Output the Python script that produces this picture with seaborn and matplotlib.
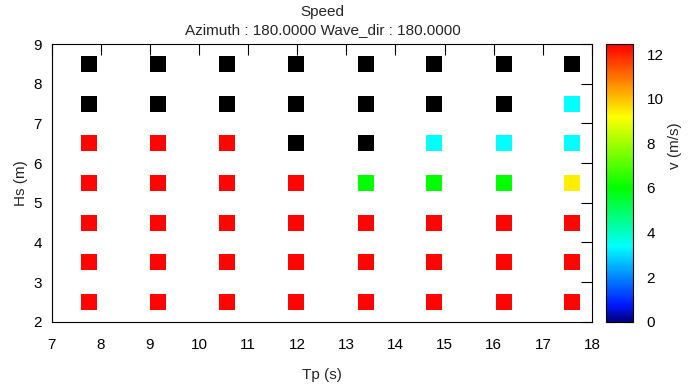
import numpy as np
import pandas as pd
import seaborn as sns
import matplotlib
matplotlib.use("Agg")
import matplotlib.pyplot as plt
from matplotlib.colors import LinearSegmentedColormap, Normalize
from matplotlib.cm import ScalarMappable

# Wave period (s) and significant wave height (m) of each grid point
tp = [7.76, 9.17, 10.57, 11.98, 13.39, 14.79, 16.2, 17.6]
hs = [2.5, 3.5, 4.5, 5.5, 6.5, 7.5, 8.5]

# Speed v (m/s) per Hs row (bottom to top), NaN = no result (drawn black)
nan = np.nan
speed = [
    [12.4, 12.4, 12.4, 12.4, 12.4, 12.4, 12.4, 12.4],
    [12.4, 12.4, 12.4, 12.4, 12.4, 12.4, 12.4, 12.4],
    [12.4, 12.4, 12.4, 12.4, 12.4, 12.4, 12.4, 12.4],
    [12.4, 12.4, 12.4, 12.4, 6.0, 6.0, 6.0, 9.4],
    [12.4, 12.4, 12.4, nan, nan, 3.4, 3.4, 3.4],
    [nan, nan, nan, nan, nan, nan, nan, 3.4],
    [nan, nan, nan, nan, nan, nan, nan, nan],
]

v_min, v_max = 0, 12.46

rows = []
for i, h in enumerate(hs):
    for j, t in enumerate(tp):
        rows.append({"Tp": t, "Hs": h, "v": speed[i][j]})
df = pd.DataFrame(rows)
valid = df[df["v"].notna()]
missing = df[df["v"].isna()]

cmap = LinearSegmentedColormap.from_list("speed", [
    (0.0, (0.0, 0.0, 0.5)),
    (0.06, (0.0, 0.1, 1.0)),
    (0.27, (0.0, 1.0, 1.0)),
    (0.48, (0.0, 1.0, 0.0)),
    (0.74, (1.0, 1.0, 0.0)),
    (1.0, (1.0, 0.0, 0.0)),
])

sns.set_style("white")
plt.rcParams["font.family"] = ["Liberation Sans", "DejaVu Sans"]
plt.rcParams["font.size"] = 11

fig = plt.figure(figsize=(6.88, 3.9), dpi=100)
ax = fig.add_axes([0.0751, 0.1751, 0.7853, 0.712])
cax = fig.add_axes([0.8804, 0.1751, 0.0392, 0.712])

sns.scatterplot(data=valid, x="Tp", y="Hs", hue="v", palette=cmap,
                hue_norm=(v_min, v_max), marker="s", s=132, linewidth=0,
                legend=False, ax=ax)
sns.scatterplot(data=missing, x="Tp", y="Hs", color="black", marker="s",
                s=132, linewidth=0, legend=False, ax=ax)

ax.set_xlim(7, 18)
ax.set_ylim(2, 9)
ax.set_xticks(range(7, 19))
ax.set_yticks(range(2, 10))
ax.tick_params(direction="in", length=8, width=0.8, top=True, right=True,
               labelsize=11, colors="black")
ax.tick_params(axis="x", pad=12)
ax.tick_params(axis="y", pad=7)
for sp in ax.spines.values():
    sp.set_color("black")
    sp.set_linewidth(0.8)

ax.set_xlabel("Tp (s)", fontsize=11)
ax.set_ylabel("Hs (m)", fontsize=11)
ax.xaxis.set_label_coords(0.5, -0.167)
ax.yaxis.set_label_coords(-0.044, 0.498)

fig.text(0.469, 0.97, "Speed", ha="center", va="center", fontsize=11)
fig.text(0.469, 0.923, "Azimuth : 180.0000 Wave_dir : 180.0000",
         ha="center", va="center", fontsize=11)

sm = ScalarMappable(norm=Normalize(v_min, v_max), cmap=cmap)
cb = fig.colorbar(sm, cax=cax)
cb.set_ticks(range(0, 13, 2))
cb.outline.set_edgecolor("black")
cb.outline.set_linewidth(0.8)
cax.tick_params(direction="in", length=6, width=0.8, left=True, right=True,
                labelsize=11, pad=10, colors="black")
cb.set_label("v (m/s)", fontsize=11)
cax.yaxis.set_label_coords(2.3, 0.633)

fig.savefig("out.png", dpi=100)
